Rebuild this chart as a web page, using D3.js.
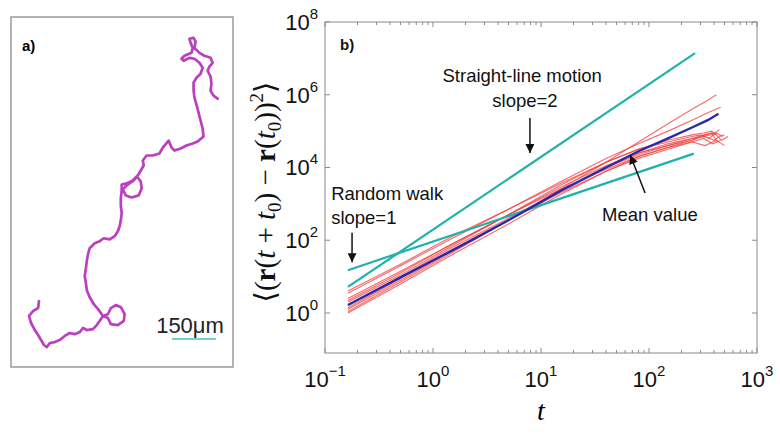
<!DOCTYPE html>
<html>
<head>
<meta charset="utf-8">
<script src="https://cdn.jsdelivr.net/npm/d3@7"></script>
<style>
  body { margin: 0; background: #fff; }
  svg { display: block; }
</style>
</head>
<body>
<div id="chart"></div>
<script>
// ---- panel a: cell trajectory, micrometres (x to the right, y upward) ----
const trackX = [34, 31, 14, 0, 7, 20, 31, 41, 51, 61, 71, 88, 105, 122, 139, 156, 173, 184, 197, 218,
  231, 241, 252, 269, 279, 303, 323, 326, 313, 296, 279, 269, 252, 238, 221, 207, 197, 194, 190, 194,
  197, 201, 207, 224, 241, 255, 275, 292, 303, 309, 313, 316, 313, 313, 316, 316, 333, 354, 367, 381,
  384, 374, 350, 330, 320, 333, 357, 371, 381, 391, 388, 401, 422, 445, 456, 476, 486, 496, 517, 537,
  558, 575, 595, 592, 585, 578, 571, 564, 561, 561, 571, 585, 592, 581, 564, 547, 527, 520, 530, 554,
  558, 551, 547, 561, 568, 564, 581, 598, 619, 626, 615, 609, 619, 622, 619, 629, 643];
const trackY = [167, 143, 133, 116, 92, 68, 51, 34, 17, 10, 24, 27, 34, 48, 58, 54, 61, 75, 68, 71,
  85, 99, 116, 109, 88, 85, 99, 122, 146, 153, 143, 122, 116, 136, 156, 180, 204, 228, 252, 279,
  303, 326, 347, 364, 371, 381, 377, 388, 405, 422, 442, 466, 493, 517, 544, 564, 568, 578, 592, 575,
  551, 527, 520, 527, 547, 561, 578, 595, 612, 629, 646, 663, 663, 670, 690, 714, 690, 680, 687, 697,
  704, 711, 728, 755, 782, 809, 836, 860, 887, 911, 928, 942, 962, 979, 993, 996, 986, 993, 1003, 1013,
  1030, 1047, 1061, 1064, 1051, 1030, 1013, 1003, 996, 979, 966, 952, 932, 908, 884, 867, 857];
const scaleBarUm = 150;
const scaleBarLabel = "150\u03bcm";

// ---- panel b: mean squared displacement vs lag time ----
const redTimes = [
  [0.163, 0.5, 1.5, 5, 15, 40, 80, 150, 250, 350, 420],
  [0.163, 0.5, 1.5, 5, 15, 40, 80, 150, 250, 350, 460],
  [0.163, 0.5, 1.5, 5, 15, 40, 80, 150, 250, 320, 380, 420],
  [0.163, 0.5, 1.5, 5, 15, 40, 80, 150, 250, 330, 400, 450, 500],
  [0.163, 0.5, 1.5, 5, 15, 40, 80, 150, 250, 300, 380, 430],
  [0.163, 0.5, 1.5, 5, 15, 40, 80, 150, 250, 320, 390, 460],
  [0.163, 0.5, 1.5, 5, 15, 40, 80, 150, 250, 300, 360, 420, 480],
  [0.163, 0.5, 1.5, 5, 15, 40, 80, 150, 250, 320, 400, 470, 540],
  [0.163, 0.5, 1.5, 5, 15, 40, 80, 150, 250, 330, 420, 500],
  [0.163, 0.5, 1.5, 5, 15, 40, 80, 150, 250, 310, 380, 450]
];
const redMsd = [
  [1.1, 7.1, 45, 355, 2500, 14000, 50000, 1.6e5, 4e5, 7.1e5, 1e6],
  [3.5, 20, 112, 710, 4000, 17800, 44700, 1e5, 2e5, 3.2e5, 4.5e5],
  [2.0, 11, 71, 500, 3200, 14000, 32000, 56000, 79000, 89000, 1e5, 79000],
  [1.26, 7.9, 50, 355, 2240, 10000, 22400, 40000, 63000, 71000, 56000, 71000, 79000],
  [2.5, 14, 79, 500, 2500, 8900, 20000, 35500, 56000, 71000, 89000, 50000],
  [1.4, 8.9, 56, 355, 2000, 7900, 17800, 31600, 50000, 63000, 44700, 56000],
  [4.0, 22, 126, 710, 3550, 14000, 31600, 50000, 71000, 79000, 63000, 89000, 71000],
  [1.6, 10, 63, 400, 2240, 10000, 25000, 44700, 63000, 79000, 89000, 56000, 71000],
  [1.0, 6.3, 40, 280, 1780, 7900, 20000, 35500, 50000, 40000, 56000, 40000],
  [2.2, 12.6, 79, 500, 2800, 11200, 25000, 40000, 56000, 71000, 79000, 1.1e5]
];
const meanTimes = [0.163, 0.5, 1.5, 5, 15, 40, 80, 150, 250, 350, 440];
const meanMsd = [1.66, 9.5, 52, 355, 2240, 10000, 28000, 63000, 1.26e5, 2e5, 3e5];
const slope2Times = [0.163, 267];
const slope2Msd = [5.2, 1.4e7];
const slope1Times = [0.163, 260];
const slope1Msd = [15, 2.4e4];
const xTickVals = [0.1, 1, 10, 100, 1000];
const xTickExp = ["\u22121", "0", "1", "2", "3"];
const yTickVals = [1, 1e2, 1e4, 1e6, 1e8];
const yTickExp = ["0", "2", "4", "6", "8"];

const W = 780, H = 437;
const teal = "#1fb2ad", red = "#f03a3a", blue = "#2a2aa8", magenta = "#bb3fc0";

const svg = d3.select("#chart").append("svg")
  .attr("width", W).attr("height", H)
  .style("font-family", "'Liberation Sans', Arial, sans-serif");

svg.append("defs").append("marker")
  .attr("id", "head")
  .attr("viewBox", "0 0 10 10")
  .attr("refX", 10).attr("refY", 5)
  .attr("markerWidth", 9).attr("markerHeight", 9)
  .attr("markerUnits", "userSpaceOnUse")
  .attr("orient", "auto")
  .append("path").attr("d", "M0,0L10,5L0,10z").attr("fill", "#111");

// ================= panel a =================
svg.append("rect")
  .attr("x", 11).attr("y", 17).attr("width", 222).attr("height", 350)
  .attr("fill", "#fff").attr("stroke", "#9a9a9a").attr("stroke-width", 1.5);

svg.append("text").attr("x", 22).attr("y", 51)
  .attr("font-size", 15).attr("font-weight", "bold").text("a)");

const pxPerUm = 44 / 150;
const xa = d3.scaleLinear().domain([0, 150]).range([29, 29 + 150 * pxPerUm]);
const ya = d3.scaleLinear().domain([0, 150]).range([350, 350 - 150 * pxPerUm]);

const track = d3.zip(trackX, trackY);
svg.append("path")
  .datum(track)
  .attr("fill", "none")
  .attr("stroke", magenta)
  .attr("stroke-width", 2.7)
  .attr("stroke-linejoin", "round")
  .attr("stroke-linecap", "round")
  .attr("d", d3.line().x(d => xa(d[0])).y(d => ya(d[1])).curve(d3.curveLinear));

// scale bar
const barX0 = 172;
svg.append("line")
  .attr("x1", barX0).attr("x2", barX0 + (xa(scaleBarUm) - xa(0)))
  .attr("y1", 339).attr("y2", 339)
  .attr("stroke", "#6fd3cb").attr("stroke-width", 2);
svg.append("text").attr("x", 190).attr("y", 333)
  .attr("text-anchor", "middle").attr("font-size", 22).attr("fill", "#222")
  .text(scaleBarLabel);

// ================= panel b =================
const L = 325, R = 757, T = 22, B = 353;
const x = d3.scaleLog().domain([0.1, 1000]).range([L, R]);
const y = d3.scaleLog().domain([Math.pow(10, -1.1), 1e8]).range([B, T]);

const axisColor = "#8a8a8a";
const ax = svg.append("g");
ax.append("rect").attr("x", L).attr("y", T).attr("width", R - L).attr("height", B - T)
  .attr("fill", "none").attr("stroke", axisColor).attr("stroke-width", 1);

// x ticks, major and minor, on bottom and top
const xMinor = [];
[0.1, 1, 10, 100].forEach(d => { for (let k = 2; k <= 9; k++) xMinor.push(d * k); });
[[xTickVals, 5], [xMinor, 3]].forEach(([vals, len]) => {
  vals.forEach(v => {
    ax.append("line").attr("x1", x(v)).attr("x2", x(v)).attr("y1", B).attr("y2", B - len)
      .attr("stroke", axisColor);
    ax.append("line").attr("x1", x(v)).attr("x2", x(v)).attr("y1", T).attr("y2", T + len)
      .attr("stroke", axisColor);
  });
});
// y ticks left and right
yTickVals.forEach(v => {
  ax.append("line").attr("x1", L).attr("x2", L + 5).attr("y1", y(v)).attr("y2", y(v)).attr("stroke", axisColor);
  ax.append("line").attr("x1", R).attr("x2", R - 5).attr("y1", y(v)).attr("y2", y(v)).attr("stroke", axisColor);
});

// tick labels
const xl = svg.append("g").attr("font-size", 22).attr("fill", "#111");
xTickVals.forEach((v, i) => {
  const t = xl.append("text").attr("x", x(v)).attr("y", 387).attr("text-anchor", "middle");
  t.append("tspan").text("10");
  t.append("tspan").attr("dy", -11).attr("font-size", 15).text(xTickExp[i]);
});
yTickVals.forEach((v, i) => {
  const t = xl.append("text").attr("x", 318).attr("y", y(v) + 8).attr("text-anchor", "end");
  t.append("tspan").text("10");
  t.append("tspan").attr("dy", -11).attr("font-size", 15).text(yTickExp[i]);
});

// axis titles
svg.append("text").attr("x", 541).attr("y", 420).attr("text-anchor", "middle")
  .attr("font-family", "'Liberation Serif', 'Times New Roman', serif")
  .attr("font-style", "italic").attr("font-size", 28).text("t");

const yt = svg.append("text")
  .attr("transform", "translate(275,192) rotate(-90)")
  .attr("text-anchor", "middle")
  .attr("font-family", "'Liberation Serif', 'DejaVu Serif', serif")
  .attr("font-size", 29).attr("fill", "#111");
const parts = [
  ["\u27e8(", ""], ["r", "b"], ["(", ""], ["t", "i"], [" + ", ""], ["t", "i"], ["0", "sub"],
  [") \u2212 ", ""], ["r", "b"], ["(", ""], ["t", "i"], ["0", "sub"], ["))", ""], ["2", "sup"], ["\u27e9", ""]
];
let shift = 0;
parts.forEach(([s, k]) => {
  const sp = yt.append("tspan").text(s);
  let dy = 0;
  if (k === "b") sp.attr("font-weight", "bold");
  if (k === "i") sp.attr("font-style", "italic");
  if (k === "sub") { sp.attr("font-size", 19); dy = 6; }
  if (k === "sup") { sp.attr("font-size", 19); dy = -12; }
  sp.attr("dy", dy - shift);
  shift = dy;
});

// data lines
const line = d3.line().x(d => x(d[0])).y(d => y(d[1]));
const plot = svg.append("g");
redTimes.forEach((ts, i) => {
  plot.append("path").datum(d3.zip(ts, redMsd[i]))
    .attr("fill", "none").attr("stroke", red).attr("stroke-width", 1.1)
    .attr("stroke-opacity", 0.75).attr("d", line);
});
plot.append("path").datum(d3.zip(slope2Times, slope2Msd))
  .attr("fill", "none").attr("stroke", teal).attr("stroke-width", 2.2).attr("d", line);
plot.append("path").datum(d3.zip(slope1Times, slope1Msd))
  .attr("fill", "none").attr("stroke", teal).attr("stroke-width", 2.2).attr("d", line);
plot.append("path").datum(d3.zip(meanTimes, meanMsd))
  .attr("fill", "none").attr("stroke", blue).attr("stroke-width", 2.4).attr("d", line);

// annotations (data coordinates)
const ann = svg.append("g").attr("font-size", 18.5).attr("fill", "#111");
ann.append("text").attr("x", x(0.138)).attr("y", y(1.7e7))
  .attr("font-size", 15).attr("font-weight", "bold").text("b)");
ann.append("text").attr("x", x(6.7)).attr("y", y(2.2e6)).attr("text-anchor", "middle").text("Straight-line motion");
ann.append("text").attr("x", x(7.1)).attr("y", y(4.6e5)).attr("text-anchor", "middle").text("slope=2");
ann.append("text").attr("x", x(0.114)).attr("y", y(1260)).text("Random walk");
ann.append("text").attr("x", x(0.114)).attr("y", y(280)).text("slope=1");
ann.append("text").attr("x", x(102)).attr("y", y(340)).attr("text-anchor", "middle").text("Mean value");

const arrows = [
  [[7.9, 2.3e5], [7.9, 2.5e4]],
  [[0.178, 160], [0.178, 25]],
  [[92, 2000], [67, 2.2e4]]
];
arrows.forEach(([a, b]) => {
  svg.append("line")
    .attr("x1", x(a[0])).attr("y1", y(a[1])).attr("x2", x(b[0])).attr("y2", y(b[1]))
    .attr("stroke", "#111").attr("stroke-width", 1.5).attr("marker-end", "url(#head)");
});
</script>
</body>
</html>
